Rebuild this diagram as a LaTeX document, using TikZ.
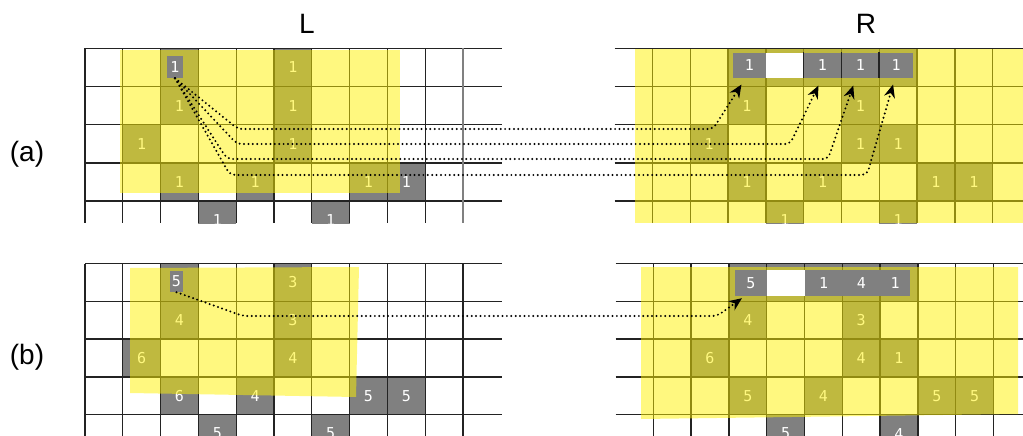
\documentclass[tikz,border=0pt]{standalone}
\usepackage{fontspec}
\setmainfont{Liberation Sans}
\newfontfamily\cellfont{DejaVu Sans Mono}
\usetikzlibrary{arrows.meta}
\definecolor{cellgray}{RGB}{128,128,128}
\definecolor{gridc}{RGB}{35,35,35}
\tikzset{
  lbl/.style={font=\fontsize{28}{30}\selectfont, inner sep=0pt},
  cellbase/.style={fill=cellgray, draw=none, inner sep=0pt, text=white, font=\cellfont\fontsize{15}{15}\selectfont, minimum width=37.8pt},
  cella/.style={cellbase, minimum height=38.2pt},
  cellb/.style={cellbase, minimum height=37.8pt},
  srcbox/.style={cellbase, minimum width=16pt, minimum height=22pt},
  stripbox/.style={cellbase, minimum height=25.6pt},
  gridl/.style={draw=gridc, line width=1.3pt},
  hl/.style={fill=yellow, fill opacity=0.5},
  dots/.style={line width=2.2pt, dash pattern=on 0pt off 4.4pt, line cap=round, rounded corners=5pt, -{Stealth[length=13pt,width=11pt]}}
}
\begin{document}
\begin{tikzpicture}[x=1pt,y=-1pt]
\useasboundingbox (0,0) rectangle (1023,436);
% labels
\node[lbl] (labL) at (307,24) {L};
\node[lbl] (labR) at (866,24) {R};
\node[lbl] (laba) at (27,154) {(a)};
\node[lbl] (labb) at (27,357) {(b)};

% ---------------- panel (a) ----------------
\begin{scope}
\clip (0,40) rectangle (1023,223);
\foreach \c/\r/\t in {2/0/{},5/0/1,2/1/1,5/1/1,1/2/1,5/2/1,2/3/1,4/3/1,7/3/1,8/3/1,3/4/1,6/4/1}
  \node[cella] (la\c\r) at ({85+37.8*(\c+0.5)},{48.3+38.2*(\r+0.5)}) {\t};
\foreach \c/\r/\t in {3/0/{},4/0/{},5/0/{},6/0/{},7/0/{},3/1/1,6/1/1,2/2/1,6/2/1,7/2/1,3/3/1,5/3/1,8/3/1,9/3/1,4/4/1,7/4/1}
  \node[cella] (ra\c\r) at ({614.7+37.8*(\c+0.5)},{48.3+38.2*(\r+0.5)}) {\t};
\foreach \r in {0,...,4} {
  \draw[gridl] (85,{48.3+38.2*\r}) -- (502,{48.3+38.2*\r});
  \draw[gridl] (614.7,{48.3+38.2*\r}) -- (1023,{48.3+38.2*\r});
}
\foreach \c in {0,...,9}
  \draw[gridl] ({85+37.8*\c},48.3) -- ({85+37.8*\c},223);
\draw[gridl, draw=gray] (463,48.3) -- (463,223);
\foreach \c in {1,...,10}
  \draw[gridl] ({614.7+37.8*\c},48.3) -- ({614.7+37.8*\c},223);
\fill[hl] (120,50) rectangle (400,193);
\fill[hl] (635,49) rectangle (1023,223);
\end{scope}
\node[srcbox] (lasrc) at (175,67) {1};
\node[stripbox, minimum width=33pt] (ras3) at (749.5,65.5) {1};
\node[stripbox, fill=white, minimum width=37.6pt] (ras4) at (784.8,65.5) {};
\node[stripbox] (ras5) at (822.5,65.5) {1};
\node[stripbox] (ras6) at (860.3,65.5) {1};
\node[stripbox, minimum width=33.8pt] (ras7) at (896.1,65.5) {1};
\draw[gridl] (ras5.north west) -- (ras5.south west);
\draw[gridl] (ras6.north west) -- (ras6.south west);
\draw[gridl] (ras7.north west) -- (ras7.south west);
\draw[dots] (lasrc.south) -- (238,129) -- (713,129) -- ([shift={(-8,6)}]ras3.south);
\draw[dots] (lasrc.south) -- (237,144) -- (790,144) -- ([shift={(-4,7)}]ras5.south);
\draw[dots] (lasrc.south) -- (227,159) -- (828,159) -- ([shift={(-7,7)}]ras6.south);
\draw[dots] (lasrc.south) -- (230,175) -- (867,175) -- ([shift={(-3,6)}]ras7.south);

% ---------------- panel (b) ----------------
\begin{scope}
\clip (0,255) rectangle (1023,436);
\foreach \c/\r/\t in {2/0/{},5/0/3,2/1/4,5/1/3,1/2/6,5/2/4,2/3/6,4/3/4,7/3/5,8/3/5,3/4/5,6/4/5}
  \node[cellb] (lb\c\r) at ({85+37.8*(\c+0.5)},{263.5+37.8*(\r+0.5)}) {\t};
\foreach \c/\r/\t in {3/0/{},4/0/{},5/0/{},6/0/{},7/0/{},3/1/4,6/1/3,2/2/6,6/2/4,7/2/1,3/3/5,5/3/4,8/3/5,9/3/5,4/4/5,7/4/4}
  \node[cellb] (rb\c\r) at ({615.5+37.8*(\c+0.5)},{263.5+37.8*(\r+0.5)}) {\t};
\foreach \r in {0,...,4} {
  \draw[gridl] (85,{263.5+37.8*\r}) -- (502,{263.5+37.8*\r});
  \draw[gridl] (615.5,{263.5+37.8*\r}) -- (1023,{263.5+37.8*\r});
}
\foreach \c in {0,...,10}
  \draw[gridl] ({85+37.8*\c},263.5) -- ({85+37.8*\c},436);
\foreach \c in {1,...,10}
  \draw[gridl] ({615.5+37.8*\c},263.5) -- ({615.5+37.8*\c},436);
\fill[hl] (130,268) -- (359,267) -- (356,397) -- (130,393) -- cycle;
\fill[hl] (641,267) -- (1018,267) -- (1018,414) -- (641,419) -- cycle;
\end{scope}
\node[srcbox, minimum width=13pt, minimum height=21pt] (lbsrc) at (176.5,281.5) {5};
\node[stripbox, minimum width=31.9pt, minimum height=26pt] (rbs3) at (750.95,283) {5};
\node[stripbox, fill=white, minimum height=26pt] (rbs4) at (785.8,283) {};
\node[stripbox, minimum height=26pt] (rbs5) at (823.6,283) {1};
\node[stripbox, minimum height=26pt] (rbs6) at (861.4,283) {4};
\node[stripbox, minimum width=29.7pt, minimum height=26pt] (rbs7) at (895.15,283) {1};
\draw[dots] (lbsrc.south) -- (243,316) -- (717,316) -- ([shift={(-9,2)}]rbs3.south);
\end{tikzpicture}
\end{document}
